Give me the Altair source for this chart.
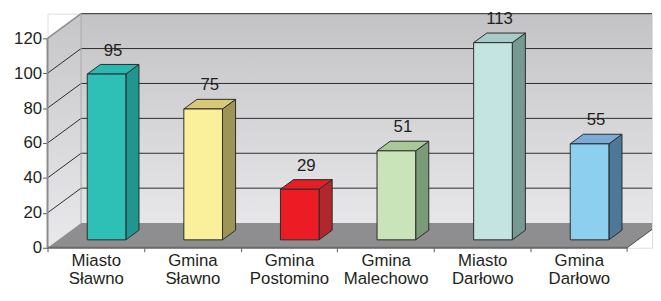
import json
import altair as alt
import pandas as pd

# ---------------- data ----------------
categories = ["Miasto Sławno", "Gmina Sławno", "Gmina Postomino",
              "Gmina Malechowo", "Miasto Darłowo", "Gmina Darłowo"]
values = [95, 75, 29, 51, 113, 55]
front_colors = ["#2EBFB7", "#FAF09C", "#EC1C24", "#C8E4B8", "#C4E4E2", "#8CCFEF"]
side_colors = ["#1F9690", "#9E9456", "#B0272D", "#7B9A78", "#779993", "#4D7899"]
top_colors = ["#2BB8B0", "#D8C878", "#E21E26", "#A8C898", "#A7CCC9", "#79ACD6"]
y_ticks = [0, 20, 40, 60, 80, 100, 120]

# ---------------- 3D projection settings ----------------
N = len(categories)
Y_MAX = 120
DX = 0.3476      # depth shift in band units
DY = 14.15       # depth shift in value units
PLOT_W = 612
PLOT_H = 237
BAND_PX = 97.8
X_MAX = PLOT_W / BAND_PX   # visible part of the category axis (box is cut at the right)
F0, F1 = 0.32, 0.71   # bar depth (front, back) as fraction of the box depth
HALF = 0.2            # half bar width in band units
FONT = "Liberation Sans"
FS = 17
TXT = "#231F20"
LINE = "#2B2B2B"

xs = alt.Scale(domain=[0, X_MAX], nice=False, zero=False)
ys = alt.Scale(domain=[0, Y_MAX + DY], nice=False, zero=False)

label_expr = "split((" + json.dumps(categories, ensure_ascii=False) + ")[datum.value], ' ')"
x_axis = alt.Axis(values=list(range(N)), title=None, grid=False, domain=False,
                  tickSize=4, tickColor="#555555", labelOffset=BAND_PX / 2,
                  labelExpr=label_expr, labelFontSize=FS, labelFont=FONT,
                  labelColor=TXT, labelPadding=14, labelLineHeight=18, labelAngle=0,
                  labelBaseline="alphabetic",
                  labelFlush=False, labelOverlap=False, labelBound=False)
y_axis = alt.Axis(values=y_ticks, title=None, grid=False, domain=False,
                  tickSize=5, tickColor="#555555", labelFontSize=FS, labelFont=FONT,
                  labelColor=TXT, labelPadding=1, labelFlush=False, labelOverlap=False)

X = lambda f="x": alt.X(f"{f}:Q", scale=xs, axis=x_axis)
Y = lambda f="y": alt.Y(f"{f}:Q", scale=ys, axis=y_axis)

# ---------------- tables built from the arrays ----------------
front = pd.DataFrame({
    "x": [i + 0.5 - HALF + F0 * DX for i in range(N)],
    "x2": [i + 0.5 + HALF + F0 * DX for i in range(N)],
    "y": [F0 * DY] * N,
    "y2": [v + F0 * DY for v in values],
    "fill": front_colors,
})
side = pd.DataFrame([
    {"bar": i, "x": i + 0.5 + HALF + f * DX, "y": f * DY, "y2": v + f * DY, "fill": side_colors[i]}
    for i, v in enumerate(values) for f in (F0, F1)
])
top = pd.DataFrame([
    {"bar": i, "y": v + f * DY, "x": i + 0.5 - HALF + f * DX, "x2": i + 0.5 + HALF + f * DX,
     "fill": top_colors[i]}
    for i, v in enumerate(values) for f in (F0, F1)
])
labels = pd.DataFrame({
    "x": [i + 0.5 + DX * (F0 + F1) / 2 for i in range(N)],
    "y": [v + F1 * DY for v in values],
    "text": [str(v) for v in values],
})

# box (walls + floor), cut where the picture ends on the right
cut_y = (X_MAX - N) / DX * DY          # height of the floor's right edge at the cut
back_wall = pd.DataFrame({"x": [DX], "x2": [X_MAX], "y": [DY], "y2": [Y_MAX + DY]})
left_wall = pd.DataFrame({"x": [0, DX], "y": [0, DY], "y2": [Y_MAX, Y_MAX + DY]})
floor = pd.DataFrame({"y": [0, cut_y, DY], "x": [0, cut_y / DY * DX, DX], "x2": [N, X_MAX, X_MAX]})
grid_back = pd.DataFrame({"x": [DX] * 6, "x2": [X_MAX] * 6, "y": [t + DY for t in y_ticks[1:]]})
grid_left = pd.DataFrame({"x": [0] * 5, "x2": [DX] * 5, "y": y_ticks[1:-1],
                          "y2": [t + DY for t in y_ticks[1:-1]]})
end_tick = pd.DataFrame({"x": [N]})

wall_grad = alt.Gradient(gradient="linear",
                         stops=[alt.GradientStop(color="#C3C3C5", offset=0),
                                alt.GradientStop(color="#E7E7E9", offset=1)],
                         x1=0, x2=0, y1=0, y2=1)
left_grad = alt.Gradient(gradient="linear",
                         stops=[alt.GradientStop(color="#C6C6C8", offset=0),
                                alt.GradientStop(color="#E9E9EB", offset=1)],
                         x1=0, x2=0, y1=0, y2=1)

layers = []
layers.append(alt.Chart(back_wall).mark_rect(color=wall_grad).encode(
    x=X(), x2="x2", y=Y(), y2="y2"))
layers.append(alt.Chart(left_wall).mark_area(color=left_grad, orient="vertical").encode(
    x=X(), y=Y(), y2="y2"))
layers.append(alt.Chart(floor).mark_area(color="#8E8E90", orient="horizontal").encode(
    y=Y(), x=X(), x2="x2"))
layers.append(alt.Chart(grid_back).mark_rule(color=LINE, strokeWidth=1).encode(
    x=X(), x2="x2", y=Y()))
layers.append(alt.Chart(grid_left).mark_rule(color=LINE, strokeWidth=1).encode(
    x=X(), x2="x2", y=Y(), y2="y2"))
# wall / floor edges
edges = pd.DataFrame({
    "x": [0, 0, DX, 0, N],
    "x2": [0, DX, DX, N, X_MAX],
    "y": [0, Y_MAX, DY, 0, 0],
    "y2": [Y_MAX, Y_MAX + DY, Y_MAX + DY, 0, cut_y],
    "c": ["#8C8C8C", "#8C8C8C", "#A8A8A8", "#6A6A6A", "#4A4A4A"],
    "w": [2, 1.5, 1, 2, 1],
})
layers.append(alt.Chart(edges).mark_rule().encode(
    x=X(), x2="x2", y=Y(), y2="y2",
    color=alt.Color("c:N", scale=None),
    strokeWidth=alt.StrokeWidth("w:Q", scale=None)))
# last category tick (the axis only carries the first six)
layers.append(alt.Chart(end_tick).mark_rule(color="#555555", strokeWidth=1).encode(
    x=X(), y=alt.value(PLOT_H), y2=alt.value(PLOT_H + 4)))
# bars
layers.append(alt.Chart(side).mark_area(orient="vertical", stroke=LINE, strokeWidth=1).encode(
    x=X(), y=Y(), y2="y2", detail="bar:N", color=alt.Color("fill:N", scale=None)))
layers.append(alt.Chart(top).mark_area(orient="horizontal", stroke=LINE, strokeWidth=1).encode(
    y=Y(), x=X(), x2="x2", detail="bar:N", color=alt.Color("fill:N", scale=None)))
layers.append(alt.Chart(front).mark_rect(stroke=LINE, strokeWidth=1).encode(
    x=X(), x2="x2", y=Y(), y2="y2", color=alt.Color("fill:N", scale=None)))
layers.append(alt.Chart(labels).mark_text(fontSize=FS, font=FONT, color=TXT,
                                          baseline="bottom", dy=-5).encode(
    x=X(), y=Y(), text="text:N"))

chart = alt.layer(*layers).properties(
    width=PLOT_W, height=PLOT_H,
    autosize=alt.AutoSizeParams(type="none"),
    padding={"left": 40, "top": 4, "right": 1, "bottom": 38},
).configure_view(stroke=None).configure(background="white")

chart.save("out.html", embed_options={"renderer": "svg", "actions": False})
